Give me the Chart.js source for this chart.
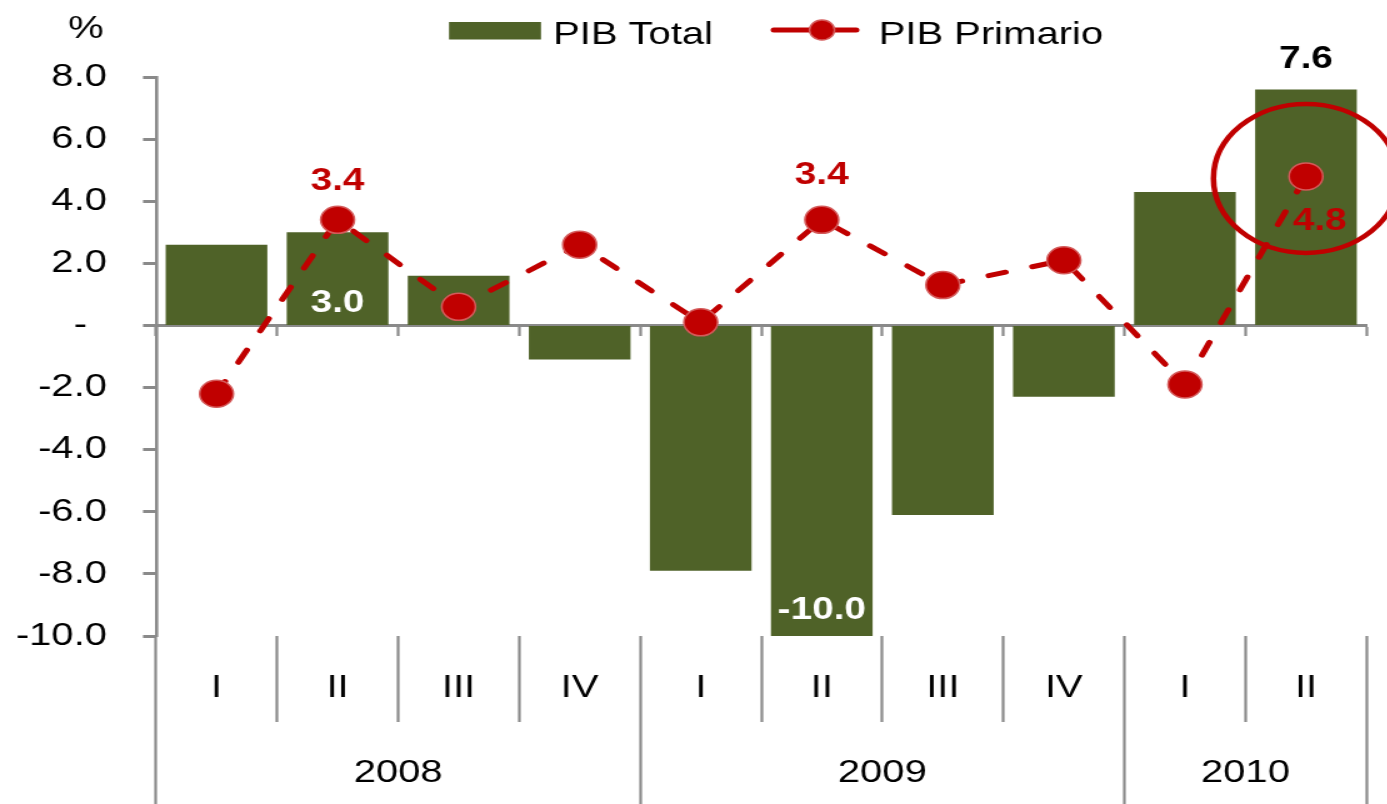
<!DOCTYPE html>
<html><head><meta charset="utf-8">
<script src="https://cdn.jsdelivr.net/npm/chart.js@4.4.1/dist/chart.umd.min.js"></script>
<style>
html,body{margin:0;padding:0;background:#fff;overflow:hidden;}
#wrap{width:1110px;height:804px;transform:scaleX(1.25);transform-origin:0 0;}
canvas{display:block;}
</style></head><body>
<div id="wrap"><canvas id="c" width="1110" height="804"></canvas></div>
<script>
// ---- data ----
const quarters = ['I','II','III','IV','I','II','III','IV','I','II'];
const years = ['2008','2009','2010'];
const quartersPerYear = [4,4,2];
const pibTotal = [2.6,3.0,1.6,-1.1,-7.9,-10.0,-6.1,-2.3,4.3,7.6];
const pibPrimario = [-2.2,3.4,0.6,2.6,0.1,3.4,1.3,2.1,-1.9,4.8];
const yTicks = [-10,-8,-6,-4,-2,0,2,4,6,8];
const seriesNames = ['PIB Total','PIB Primario'];
const unitLabel = '%';

// ---- styles ----
const FONT = '"Liberation Sans", Arial, sans-serif';
const GRAY = '#8a8a8a';
const GREEN = '#4f6228';
const RED = '#c00000';
const RED_EDGE = '#d45a5a';
Chart.defaults.font.family = FONT;

// year groups derived from quartersPerYear
const yearBounds = [0];
quartersPerYear.forEach(n => yearBounds.push(yearBounds[yearBounds.length-1] + n));
const yearCenters = quartersPerYear.map((n,i) => yearBounds[i] + n/2);

// data label specs (which points get labels)
const LABELS = [
  {ds:0, i:1, color:'#ffffff', anchor:'base', dx:0, dy:-22},
  {ds:0, i:5, color:'#ffffff', anchor:'end', dx:0, dy:-26},
  {ds:0, i:9, color:'#000000', anchor:'end', dx:0, dy:-30},
  {ds:1, i:1, color:RED, anchor:'end', dx:0, dy:-38},
  {ds:1, i:5, color:RED, anchor:'end', dx:0, dy:-44},
  {ds:1, i:9, color:RED, anchor:'end', dx:11, dy:45}
];

const dataLabelPlugin = {
  id:'dataLabels',
  afterDatasetsDraw(chart){
    const ctx = chart.ctx;
    ctx.save();
    ctx.font = 'bold 31px ' + FONT;
    ctx.textAlign = 'center';
    ctx.textBaseline = 'middle';
    for (const L of LABELS) {
      const el = chart.getDatasetMeta(L.ds).data[L.i];
      const val = chart.data.datasets[L.ds].data[L.i];
      const y = (L.anchor === 'base' ? chart.scales.y.getPixelForValue(0) : el.y) + L.dy;
      ctx.fillStyle = L.color;
      ctx.fillText(val.toFixed(1), el.x + L.dx, y);
    }
    // highlight ellipse around last PIB Primario point
    const p = chart.getDatasetMeta(1).data[9];
    ctx.beginPath();
    ctx.ellipse(p.x, p.y + 2, 74, 74.5, 0, 0, Math.PI*2);
    ctx.strokeStyle = RED;
    ctx.lineWidth = 4.5;
    ctx.stroke();
    ctx.restore();
  }
};

const legendPlugin = {
  id:'customLegend',
  afterDraw(chart){
    const ctx = chart.ctx;
    ctx.save();
    ctx.fillStyle = GREEN;
    ctx.fillRect(359.2, 22, 73.6, 17.5);
    ctx.font = '32px ' + FONT;
    ctx.fillStyle = '#000';
    ctx.textAlign = 'left';
    ctx.textBaseline = 'alphabetic';
    ctx.fillText(chart.data.datasets[0].label, 442.4, 44);
    ctx.strokeStyle = RED; ctx.lineWidth = 5; ctx.lineCap = 'round';
    ctx.beginPath(); ctx.moveTo(619, 30); ctx.lineTo(685, 30); ctx.stroke();
    ctx.beginPath(); ctx.arc(657.6, 30, 10, 0, Math.PI*2);
    ctx.fillStyle = RED; ctx.fill();
    ctx.lineWidth = 1.5; ctx.strokeStyle = RED_EDGE; ctx.stroke();
    ctx.fillStyle = '#000';
    ctx.fillText(chart.data.datasets[1].label, 702.9, 44);
    ctx.fillText(unitLabel, 54.4, 38);
    ctx.restore();
  }
};

new Chart(document.getElementById('c'), {
  type:'bar',
  data:{
    labels: quarters,
    datasets:[
      {type:'bar', label:seriesNames[0], data:pibTotal, backgroundColor:GREEN,
       barPercentage:0.84, categoryPercentage:1.0, order:2, xAxisID:'x', yAxisID:'y'},
      {type:'line', label:seriesNames[1], data:pibPrimario, borderColor:RED, borderWidth:5,
       borderDash:[14,22], borderCapStyle:'round', tension:0, fill:false,
       pointRadius:13.5, pointHoverRadius:13.5, pointBackgroundColor:RED, pointBorderColor:RED_EDGE,
       pointBorderWidth:1.5, order:1, xAxisID:'x', yAxisID:'y'}
    ]
  },
  options:{
    responsive:false,
    animation:false,
    devicePixelRatio:1,
    layout:{padding:{top:77, left:0, right:16.8, bottom:0}},
    plugins:{legend:{display:false}, tooltip:{enabled:false}},
    scales:{
      x:{
        type:'category', axis:'x', position:{y:0}, offset:true,
        grid:{offset:true, drawOnChartArea:false, drawTicks:true, tickLength:9, tickColor:GRAY, tickWidth:2.2, color:GRAY},
        border:{display:true, color:GRAY, width:3},
        ticks:{display:false}
      },
      xq:{
        type:'category', axis:'x', position:'bottom', offset:true, weight:1,
        grid:{offset:true, drawOnChartArea:false, drawTicks:true, tickLength:86, tickColor:GRAY, tickWidth:2.2, color:GRAY},
        border:{display:false},
        ticks:{padding:-53, font:{size:32}, color:'#000', autoSkip:false, maxRotation:0, minRotation:0},
        afterFit(s){ s.height = 86; }
      },
      xy:{
        type:'linear', axis:'x', position:'bottom', weight:2, offset:false,
        min:0, max:yearBounds[yearBounds.length-1],
        grid:{offset:false, drawOnChartArea:false, drawTicks:true, tickLength:82, tickWidth:2.2,
          color: c => (c.tick && yearBounds.includes(c.tick.value)) ? GRAY : 'rgba(0,0,0,0)',
          tickColor: c => (c.tick && yearBounds.includes(c.tick.value)) ? GRAY : 'rgba(0,0,0,0)'},
        border:{display:false},
        ticks:{padding:-50, font:{size:32}, color:'#000', autoSkip:false, maxRotation:0, minRotation:0,
          callback: v => { const k = yearCenters.indexOf(v); return k >= 0 ? years[k] : ''; }},
        afterBuildTicks(s){
          const vals = Array.from(new Set(yearBounds.concat(yearCenters))).sort((a,b)=>a-b);
          s.ticks = vals.map(v => ({value:v}));
        },
        afterFit(s){ s.height = 82; }
      },
      y:{
        type:'linear', axis:'y', position:'left', min:yTicks[0], max:yTicks[yTicks.length-1],
        grid:{drawOnChartArea:false, drawTicks:true, tickLength:10.4, tickColor:GRAY, tickWidth:3, color:GRAY},
        border:{display:true, color:GRAY, width:2.6},
        ticks:{padding:28.8, font:{size:32}, color:'#000',
          callback: v => v === 0 ? '-\u2002' : Number(v).toFixed(1)},
        afterBuildTicks(s){ s.ticks = yTicks.map(v => ({value:v})); },
        afterFit(s){ s.width = 124.8; }
      }
    }
  },
  plugins:[dataLabelPlugin, legendPlugin]
});
</script>
</body></html>
